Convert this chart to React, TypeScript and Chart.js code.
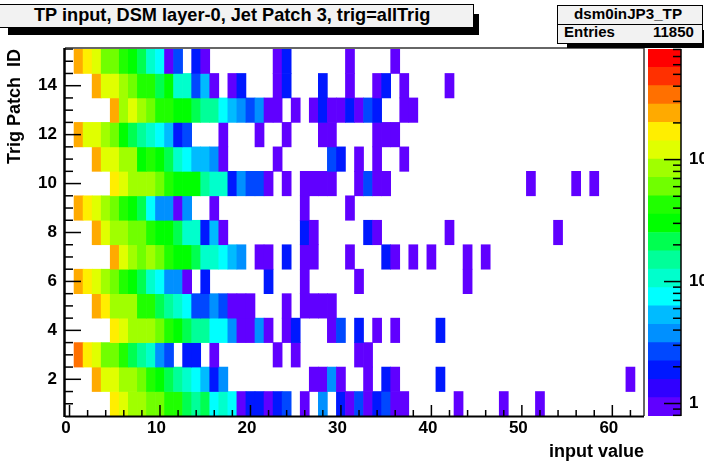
import React, { useEffect, useRef } from "react";
import { Chart, registerables } from "chart.js";

Chart.register(...registerables);

const title = "TP input, DSM layer-0, Jet Patch 3, trig=allTrig";
const statsName = "dsm0inJP3_TP";
const statsEntries = "11850";
const xTitle = "input value";
const yTitle = "Trig Patch  ID";
const xTickLabels = [0, 10, 20, 30, 40, 50, 60];
const yTickLabels = [2, 4, 6, 8, 10, 12, 14];
const zTickLabels = [1, 10, 100];
const zMin = 0.79;
const zMax = 807;

const palette = [
  "#6000ff", "#3000ff", "#0018ff", "#0048ff", "#0090ff", "#00bbff", "#00ffff", "#00ffcc", "#00ff99", "#00ff50",
  "#00ff00", "#20ff00", "#70ff00", "#a0ff00", "#e0ff00", "#ffee00", "#ffaa00", "#ff7000", "#ff3000", "#ff0000",
];

// Counts per input-value bin (index = bin), one list per trigger patch.
const patch1 = [0,0,0,0,0,170,120,85,85,60,60,42,42,21,15,21,8,10,8,1,2,2,1,2,3,0,1,0,4,0,2,1,3,1,2,3,1,1,0,0,0,0,0,1,0,0,0,0,1,0,0,0,1];
const patch2 = [0,0,0,240,120,120,85,85,60,42,30,21,15,10,8,5,2,4,0,0,0,0,0,0,0,0,0,1,1,4,1,0,0,1,0,2,1,0,0,0,0,2,0,0,0,0,0,0,0,0,0,0,0,0,0,0,0,0,0,0,0,0,1];
const patch3 = [0,340,170,120,60,60,42,21,15,10,4,3,0,2,2,0,1,0,0,0,0,0,0,1,0,1,0,0,0,0,0,0,1,1];
const patch4 = [0,0,0,0,0,170,120,85,85,85,60,42,30,21,15,15,8,8,4,1,1,4,1,0,1,2,0,0,0,1,3,0,2,0,1,0,1,0,0,0,0,2];
const patch5 = [0,0,0,240,170,85,85,85,42,42,21,15,10,8,3,3,4,3,1,1,1,0,0,0,1,0,1,1,1,1];
const patch6 = [0,240,170,120,85,60,42,30,21,10,8,4,4,1,0,2,0,0,0,0,0,0,2,0,0,0,1,0,0,0,0,0,1,0,0,0,0,0,0,0,0,0,0,0,1];
const patch7 = [0,0,0,0,0,240,120,85,60,85,60,42,30,30,21,10,10,8,5,4,0,1,1,0,2,0,1,1,0,0,0,1,0,0,0,2,1,0,1,0,1,0,0,0,1,0,1];
const patch8 = [0,0,0,240,120,85,85,60,60,42,30,30,21,10,10,2,5,1,0,0,0,0,0,0,0,0,2,1,0,0,0,0,0,2,1,0,0,0,0,0,0,0,1,0,0,0,0,0,0,0,0,0,0,0,1];
const patch9 = [0,240,170,120,85,60,42,30,21,8,4,4,1,4,0,0,1,0,0,0,0,0,0,0,0,0,1,0,0,0,0,1];
const patch10 = [0,0,0,0,0,170,120,85,85,85,60,42,30,30,30,15,10,10,2,4,3,3,1,0,1,0,1,1,1,1,0,0,1,3,1,1,0,0,0,0,0,0,0,0,0,0,0,0,0,0,0,1,0,0,0,0,1,0,1];
const patch11 = [0,0,0,240,120,120,85,85,30,42,30,21,10,8,5,5,4,1,0,0,0,0,0,1,0,0,0,0,0,3,2,0,1,0,1,0,0,1];
const patch12 = [0,240,120,120,85,60,30,21,15,10,8,5,2,3,0,0,0,1,0,0,0,1,0,0,1,0,0,0,1,1,0,0,0,0,1,1,1];
const patch13 = [0,0,0,0,0,240,85,120,85,60,42,42,30,30,21,15,15,8,5,4,3,4,1,1,0,1,0,1,2,1,1,2,1,3,2,0,0,1,1];
const patch14 = [0,0,0,240,120,120,85,60,42,42,21,30,10,10,3,5,1,0,1,2,0,0,0,1,2,0,0,0,2,0,0,1,0,0,1,2,0,1,0,0,0,0,1];
const patch15 = [0,240,170,120,60,60,42,30,21,10,8,1,3,0,2,1,0,0,0,0,0,0,0,1,2,0,0,0,0,0,0,1,0,0,0,0,1];
const patches = [patch1, patch2, patch3, patch4, patch5, patch6, patch7, patch8, patch9, patch10, patch11, patch12, patch13, patch14, patch15];

const FONT = "'Liberation Sans', Arial, sans-serif";
const logSpan = Math.log10(zMax) - Math.log10(zMin);
const levelOf = (z: number) => Math.min(19, Math.floor((20 * (Math.log10(z) - Math.log10(zMin))) / logSpan));
const levelEdge = (l: number) => zMin * Math.pow(10, (logSpan * l) / 20);

const cells: { x: number; y: [number, number] }[] = [];
const cellColors: string[] = [];
patches.forEach((row, p) =>
  row.forEach((count, bin) => {
    if (count > 0) {
      cells.push({ x: bin, y: [p + 0.5, p + 1.5] });
      cellColors.push(palette[levelOf(count)]);
    }
  })
);

const line = (c: CanvasRenderingContext2D, x0: number, y0: number, x1: number, y1: number, w: number, col = "#000") => {
  c.beginPath();
  c.lineWidth = w;
  c.strokeStyle = col;
  c.moveTo(x0, y0);
  c.lineTo(x1, y1);
  c.stroke();
};

const framePlugin = {
  id: "rootFrame",
  afterDatasetsDraw(chart: any) {
    const c = chart.ctx;
    const { left, right, top, bottom } = chart.chartArea;
    c.save();
    for (let v = 0; v <= 63; v += 2) {
      const px = chart.scales.x.getPixelForValue(v);
      line(c, px, bottom, px, bottom - (v % 10 === 0 ? 11 : 6), 1.5);
    }
    for (let v = 1; v <= 15.5; v += 0.5) {
      const py = chart.scales.y.getPixelForValue(v);
      line(c, left, py, left + (v % 2 === 0 ? 16 : 8), py, 1.5);
    }
    line(c, left, top - 1, right, top - 1, 1.5, "#333");
    line(c, right, top - 1, right, bottom, 1.5, "#333");
    line(c, left, bottom + 0.5, right, bottom + 0.5, 2);
    line(c, left - 0.5, top - 1, left - 0.5, bottom + 1, 2.5);
    c.restore();
  },
};

const zPlugin = {
  id: "zTicks",
  afterDatasetsDraw(chart: any) {
    const c = chart.ctx;
    const { right, top, bottom } = chart.chartArea;
    const s = chart.scales.y;
    c.save();
    line(c, right, top, right, bottom, 1.5);
    for (const decade of [0.1, 1, 10, 100]) {
      for (let m = 1; m <= 9; m++) {
        const v = decade * m;
        if (v < zMin - 1e-9 || v > zMax) continue;
        const py = s.getPixelForValue(v);
        line(c, right, py, right - (m === 1 ? 17 : 8), py, 1.5);
      }
    }
    c.restore();
  },
};

export default function App() {
  const mainRef = useRef<HTMLCanvasElement>(null);
  const barRef = useRef<HTMLCanvasElement>(null);

  useEffect(() => {
    const main = new Chart(mainRef.current!, {
      type: "bar",
      data: {
        datasets: [{ data: cells as any, backgroundColor: cellColors, borderWidth: 0, categoryPercentage: 1, barPercentage: 1, grouped: false } as any],
      },
      plugins: [framePlugin],
      options: {
        animation: false,
        responsive: false,
        layout: { padding: { top: 49, right: 60, left: 0, bottom: 0 } },
        plugins: { legend: { display: false }, tooltip: { enabled: false }, title: { display: false } },
        scales: {
          x: {
            type: "linear",
            offset: false,
            min: -0.5,
            max: 63.5,
            grid: { display: false, offset: false, drawTicks: false },
            border: { display: false },
            afterBuildTicks: (s: any) => { s.ticks = xTickLabels.map((value) => ({ value })); },
            afterFit: (s: any) => { s.height = 47; },
            ticks: { autoSkip: false, maxRotation: 0, padding: 2, labelOffset: -3.5, color: "#000", font: { family: FONT, weight: "bold", size: 17 } },
            title: { display: true, text: xTitle, align: "end", color: "#000", padding: { top: 2, bottom: 0 }, font: { family: FONT, weight: "bold", size: 18 } },
          },
          y: {
            type: "linear",
            min: 0.5,
            max: 15.5,
            grid: { display: false, drawTicks: false },
            border: { display: false },
            afterBuildTicks: (s: any) => { s.ticks = yTickLabels.map((value) => ({ value })); },
            afterFit: (s: any) => { s.width = 65; },
            ticks: { autoSkip: false, padding: 8, color: "#000", font: { family: FONT, weight: "bold", size: 17 } },
            title: { display: true, text: yTitle, align: "end", color: "#000", padding: { top: 4, bottom: 0 }, font: { family: FONT, weight: "bold", size: 18 } },
          },
        },
      } as any,
    });

    const levels = palette.map((_, i) => i);
    const bar = new Chart(barRef.current!, {
      type: "bar",
      data: {
        labels: ["z"],
        datasets: levels.map((l) => ({
          data: [[levelEdge(l), levelEdge(l + 1)]] as any,
          backgroundColor: palette[l],
          borderWidth: 0,
          categoryPercentage: 1,
          barPercentage: 1,
          grouped: false,
        })) as any,
      },
      plugins: [zPlugin],
      options: {
        animation: false,
        responsive: false,
        layout: { padding: { top: 49, left: 648, right: 0, bottom: 47 } },
        plugins: { legend: { display: false }, tooltip: { enabled: false } },
        scales: {
          x: { display: false },
          y: {
            type: "logarithmic",
            position: "right",
            min: zMin,
            max: zMax,
            grid: { display: false, drawTicks: false },
            border: { display: false },
            afterBuildTicks: (s: any) => { s.ticks = zTickLabels.map((value) => ({ value })); },
            afterFit: (s: any) => { s.width = 23; },
            ticks: {
              autoSkip: false,
              padding: 8,
              color: "#000",
              font: { family: FONT, weight: "bold", size: 17 },
              callback: (v: number) => (v === 100 ? "10²" : String(v)),
            },
          },
        },
      } as any,
    });

    return () => {
      main.destroy();
      bar.destroy();
    };
  }, []);

  const abs: React.CSSProperties = { position: "absolute", left: 0, top: 0 };
  const boxText: React.CSSProperties = { position: "absolute", fontFamily: FONT, fontWeight: 700, color: "#000", whiteSpace: "nowrap", lineHeight: 1 };
  return (
    <div style={{ position: "fixed", left: 0, top: 0, width: 704, height: 463, background: "#fff", overflow: "hidden" }}>
      <canvas ref={mainRef} width={704} height={463} style={{ ...abs, width: 704, height: 463 }} />
      <canvas ref={barRef} width={704} height={463} style={{ ...abs, width: 704, height: 463 }} />
      <div style={{ position: "absolute", left: 8, top: 14, width: 471, height: 21, background: "#000" }} />
      <div style={{ position: "absolute", left: -2, top: 4, width: 474, height: 22, background: "#f2f2f2", border: "1.5px solid #000" }} />
      <div style={{ ...boxText, left: 34, top: 6.4, fontSize: 18.2 }}>{title}</div>
      <div style={{ position: "absolute", left: 567, top: 30, width: 137, height: 18, background: "#000" }} />
      <div style={{ position: "absolute", left: 557, top: 5, width: 144, height: 37, background: "#f2f2f2", border: "1.5px solid #000" }} />
      <div style={{ position: "absolute", left: 557, top: 23.5, width: 146, height: 1.5, background: "#000" }} />
      <div style={{ ...boxText, left: 557, width: 142, textAlign: "center", top: 6, fontSize: 15.2 }}>{statsName}</div>
      <div style={{ ...boxText, left: 564, top: 24, fontSize: 15 }}>Entries</div>
      <div style={{ ...boxText, left: 653, top: 24, fontSize: 15 }}>{statsEntries}</div>
    </div>
  );
}
